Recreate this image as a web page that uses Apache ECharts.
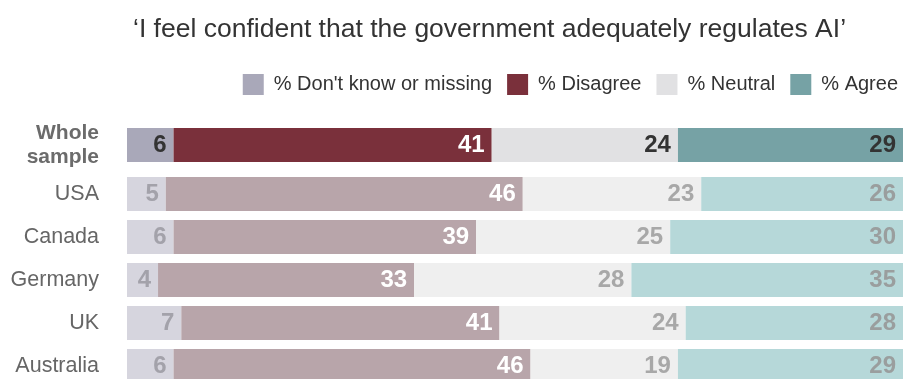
<!DOCTYPE html>
<html>
<head>
<meta charset="utf-8">
<script src="https://cdn.jsdelivr.net/npm/echarts@6/dist/echarts.min.js"></script>
<style>
html,body{margin:0;padding:0;background:#fff;}
#chart{width:903px;height:379px;}
</style>
</head>
<body>
<div id="chart"></div>
<script>
const titleText = '\u2018I feel confident that the government adequately regulates AI\u2019';
const seriesNames = ["% Don't know or missing", '% Disagree', '% Neutral', '% Agree'];
const wholeCategory = ['Whole sample'];
const wholeDontKnow = [6];
const wholeDisagree = [41];
const wholeNeutral = [24];
const wholeAgree = [29];
const countries = ['USA', 'Canada', 'Germany', 'UK', 'Australia'];
const dontKnow = [5, 6, 4, 7, 6];
const disagree = [46, 39, 33, 41, 46];
const neutral = [23, 25, 28, 24, 19];
const agree = [26, 30, 35, 28, 29];

const wholeColors = ['#a9a8b9', '#7a303b', '#e1e1e3', '#76a2a5'];
const wholeLabelColors = ['#333333', '#ffffff', '#333333', '#333333'];
const countryColors = ['#d6d5de', '#b8a5aa', '#efefef', '#b6d8d9'];
const countryLabelColors = ['#a3a2aa', '#ffffff', '#a8a8a8', '#9a9e9e'];

const sansFont = '"Liberation Sans", Arial, Helvetica, sans-serif';
const wholeData = [wholeDontKnow, wholeDisagree, wholeNeutral, wholeAgree];
const countryData = [dontKnow, disagree, neutral, agree];

const series = [];
wholeData.forEach((d, i) => {
  series.push({
    name: seriesNames[i], type: 'bar', stack: 'whole', xAxisIndex: 0, yAxisIndex: 0,
    data: d, barWidth: 34, itemStyle: { color: wholeColors[i] },
    label: { show: true, position: 'insideRight', distance: 7, color: wholeLabelColors[i],
      fontFamily: sansFont, fontWeight: 'bold', fontSize: 24 },
    emphasis: { disabled: true }, silent: true
  });
});
countryData.forEach((d, i) => {
  series.push({
    name: seriesNames[i], type: 'bar', stack: 'country', xAxisIndex: 1, yAxisIndex: 1,
    data: d, barWidth: 34, itemStyle: { color: countryColors[i] },
    label: { show: true, position: 'insideRight', distance: 7, color: countryLabelColors[i],
      fontFamily: sansFont, fontWeight: 'bold', fontSize: 24 },
    emphasis: { disabled: true }, silent: true
  });
});

const chart = echarts.init(document.getElementById('chart'), null, { renderer: 'canvas' });
chart.setOption({
  animation: false,
  backgroundColor: '#ffffff',
  title: {
    text: titleText, left: 128, top: 11,
    textStyle: { fontFamily: sansFont, fontWeight: 'normal', fontSize: 26.5, color: '#333333' }
  },
  legend: {
    data: seriesNames, right: 0, top: 69, icon: 'rect', itemWidth: 21, itemHeight: 21, itemGap: 15,
    selectedMode: false,
    textStyle: { fontFamily: sansFont, fontWeight: 'normal', fontSize: 20, color: '#333333', padding: [0, 0, 0, 5] }
  },
  grid: [
    { left: 127, right: 0, top: 128, height: 34, containLabel: false, outerBoundsMode: 'none' },
    { left: 127, right: 0, top: 172.5, height: 215, containLabel: false, outerBoundsMode: 'none' }
  ],
  xAxis: [
    { type: 'value', gridIndex: 0, min: 0, max: 100, show: false },
    { type: 'value', gridIndex: 1, min: 0, max: 100, show: false }
  ],
  yAxis: [
    { type: 'category', gridIndex: 0, data: wholeCategory, inverse: true,
      axisLine: { show: false }, axisTick: { show: false },
      axisLabel: { margin: 28, fontFamily: sansFont, fontWeight: 'bold', fontSize: 21, color: '#6b6b6b',
        lineHeight: 24, formatter: v => v.replace(' ', '\n') } },
    { type: 'category', gridIndex: 1, data: countries, inverse: true,
      axisLine: { show: false }, axisTick: { show: false },
      axisLabel: { margin: 28, fontFamily: sansFont, fontWeight: 'normal', fontSize: 21.5, color: '#666666' } }
  ],
  series: series
});
</script>
</body>
</html>
